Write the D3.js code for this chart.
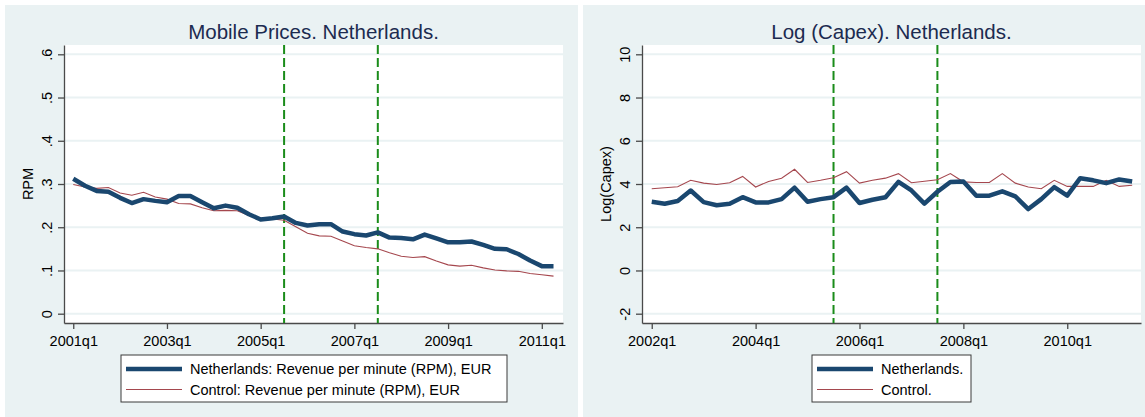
<!DOCTYPE html>
<html>
<head>
<meta charset="utf-8">
<script src="https://cdn.jsdelivr.net/npm/d3@7"></script>
<style>
  body { margin: 0; background: #fff; }
  svg { display: block; font-family: 'Liberation Sans', Arial, sans-serif; }
</style>
</head>
<body>
<svg id="chart" width="1145" height="417"></svg>
<script>
// Left panel: mobile prices, 2001q1 - 2011q2
const rpmQuarters = [
  '2001q1','2001q2','2001q3','2001q4','2002q1','2002q2','2002q3','2002q4',
  '2003q1','2003q2','2003q3','2003q4','2004q1','2004q2','2004q3','2004q4',
  '2005q1','2005q2','2005q3','2005q4','2006q1','2006q2','2006q3','2006q4',
  '2007q1','2007q2','2007q3','2007q4','2008q1','2008q2','2008q3','2008q4',
  '2009q1','2009q2','2009q3','2009q4','2010q1','2010q2','2010q3','2010q4',
  '2011q1','2011q2'
]
const rpmNetherlands = [
  0.312, 0.296, 0.284, 0.282, 0.268, 0.256, 0.265, 0.261, 0.258, 0.272,
  0.272, 0.258, 0.244, 0.250, 0.245, 0.230, 0.218, 0.221, 0.225, 0.210,
  0.204, 0.207, 0.207, 0.190, 0.184, 0.181, 0.188, 0.176, 0.175, 0.172,
  0.183, 0.174, 0.165, 0.165, 0.167, 0.159, 0.150, 0.149, 0.138, 0.123,
  0.110, 0.110
]
const rpmControl = [
  0.299, 0.293, 0.290, 0.292, 0.279, 0.274, 0.281, 0.270, 0.265, 0.255,
  0.254, 0.245, 0.238, 0.239, 0.238, 0.227, 0.221, 0.219, 0.216, 0.201,
  0.186, 0.180, 0.179, 0.168, 0.157, 0.153, 0.150, 0.141, 0.133, 0.130,
  0.132, 0.122, 0.113, 0.110, 0.112, 0.106, 0.101, 0.099, 0.098, 0.093,
  0.090, 0.087
]
const rpmXTicks = ['2001q1', '2003q1', '2005q1', '2007q1', '2009q1', '2011q1']
const rpmYTicks = [0, 0.1, 0.2, 0.3, 0.4, 0.5, 0.6]
const rpmYLabels = ['0', '.1', '.2', '.3', '.4', '.5', '.6']

// Right panel: log capex, 2002q1 - 2011q2
const capexQuarters = [
  '2002q1','2002q2','2002q3','2002q4','2003q1','2003q2','2003q3','2003q4',
  '2004q1','2004q2','2004q3','2004q4','2005q1','2005q2','2005q3','2005q4',
  '2006q1','2006q2','2006q3','2006q4','2007q1','2007q2','2007q3','2007q4',
  '2008q1','2008q2','2008q3','2008q4','2009q1','2009q2','2009q3','2009q4',
  '2010q1','2010q2','2010q3','2010q4','2011q1','2011q2'
]
const capexNetherlands = [
  3.18, 3.09, 3.21, 3.70, 3.16, 3.02, 3.09, 3.39, 3.15, 3.15,
  3.30, 3.83, 3.18, 3.30, 3.39, 3.83, 3.12, 3.27, 3.39, 4.10,
  3.70, 3.09, 3.64, 4.09, 4.12, 3.46, 3.46, 3.66, 3.43, 2.84,
  3.30, 3.86, 3.46, 4.27, 4.17, 4.04, 4.21, 4.12
]
const capexControl = [
  3.78, 3.83, 3.87, 4.17, 4.04, 3.98, 4.06, 4.35, 3.86, 4.12,
  4.27, 4.68, 4.07, 4.17, 4.29, 4.57, 4.04, 4.17, 4.27, 4.48,
  4.06, 4.13, 4.20, 4.48, 4.10, 4.07, 4.07, 4.48, 4.04, 3.86,
  3.78, 4.17, 3.89, 3.89, 3.89, 4.17, 3.89, 3.94
]
const capexXTicks = ['2002q1', '2004q1', '2006q1', '2008q1', '2010q1']
const capexYTicks = [-2, 0, 2, 4, 6, 8, 10]
const capexYLabels = ['-2', '0', '2', '4', '6', '8', '10']

const eventQuarters = ['2005q3', '2007q3']

const bg = '#eaf2f3'
const navy = '#1a476f'
const maroon = '#a5474e'

const svg = d3.select('#chart')

drawPanel({
  bx: 5, bw: 573,
  left: 64, right: 563,
  title: 'Mobile Prices. Netherlands.',
  yTitle: 'RPM',
  quarters: rpmQuarters,
  nl: rpmNetherlands,
  ctrl: rpmControl,
  xTicks: rpmXTicks,
  xDomain: [-0.79, 41.81],
  yTicks: rpmYTicks,
  yLabels: rpmYLabels,
  yDomain: [-0.0215, 0.6215],
  legend: { x: 121, w: 386, labels: ['Netherlands: Revenue per minute (RPM), EUR', 'Control: Revenue per minute (RPM), EUR'] }
})

drawPanel({
  bx: 583, bw: 562,
  left: 642, right: 1141,
  title: 'Log (Capex). Netherlands.',
  yTitle: 'Log(Capex)',
  quarters: capexQuarters,
  nl: capexNetherlands,
  ctrl: capexControl,
  xTicks: capexXTicks,
  xDomain: [-0.75, 37.68],
  yTicks: capexYTicks,
  yLabels: capexYLabels,
  yDomain: [-2.43, 10.43],
  legend: { x: 812, w: 159, labels: ['Netherlands.', 'Control.'] }
})

function drawPanel(p) {
  const top = 45
  const bottom = 323

  const g = svg.append('g')

  g.append('rect')
    .attr('x', p.bx).attr('y', 5)
    .attr('width', p.bw).attr('height', 412)
    .attr('fill', bg)

  g.append('rect')
    .attr('x', p.left).attr('y', top)
    .attr('width', p.right - p.left).attr('height', bottom - top)
    .attr('fill', '#fff')

  const x = d3.scaleLinear().domain(p.xDomain).range([p.left, p.right])
  const y = d3.scaleLinear().domain(p.yDomain).range([bottom, top])

  // Grid lines
  g.append('g').selectAll('line')
    .data(p.yTicks)
    .join('line')
    .attr('x1', p.left).attr('x2', p.right)
    .attr('y1', d => y(d)).attr('y2', d => y(d))
    .attr('stroke', bg)
    .attr('stroke-width', 2)

  // Y axis, labels turned on their side
  const yAxis = g.append('g')
    .attr('transform', `translate(${p.left},0)`)
    .call(d3.axisLeft(y)
      .tickValues(p.yTicks)
      .tickFormat((d, i) => p.yLabels[i])
      .tickSize(6)
      .tickSizeOuter(0))
  yAxis.selectAll('text')
    .attr('x', null).attr('dy', null)
    .attr('transform', 'translate(-12,0) rotate(-90)')
    .attr('text-anchor', 'middle')

  // X axis
  const xAxis = g.append('g')
    .attr('transform', `translate(0,${bottom})`)
    .call(d3.axisBottom(x)
      .tickValues(p.xTicks.map(q => p.quarters.indexOf(q)))
      .tickFormat(i => p.quarters[i])
      .tickSize(6)
      .tickSizeOuter(0)
      .tickPadding(7))

  ;[yAxis, xAxis].forEach(a => {
    a.selectAll('text').attr('font-size', 14.5).attr('fill', '#000').attr('font-family', null)
    a.selectAll('path, line').attr('stroke', '#4a4a4a').attr('stroke-width', 1.3)
  })

  // Event lines
  g.append('g').selectAll('line')
    .data(p.quarters.filter(q => eventQuarters.includes(q)))
    .join('line')
    .attr('x1', q => x(p.quarters.indexOf(q)))
    .attr('x2', q => x(p.quarters.indexOf(q)))
    .attr('y1', top).attr('y2', bottom)
    .attr('stroke', '#1a8c1a')
    .attr('stroke-width', 2)
    .attr('stroke-dasharray', '9,4')

  const line = d3.line().x((d, i) => x(i)).y(d => y(d))

  g.append('path')
    .attr('d', line(p.ctrl))
    .attr('fill', 'none')
    .attr('stroke', maroon)
    .attr('stroke-width', 1.1)

  g.append('path')
    .attr('d', line(p.nl))
    .attr('fill', 'none')
    .attr('stroke', navy)
    .attr('stroke-width', 4.5)
    .attr('stroke-linejoin', 'round')

  // Titles
  g.append('text')
    .attr('x', (p.left + p.right) / 2).attr('y', 39)
    .attr('text-anchor', 'middle')
    .attr('font-size', 20.5)
    .attr('fill', '#1c2b50')
    .text(p.title)

  g.append('text')
    .attr('transform', `translate(${p.left - 31},${(top + bottom) / 2}) rotate(-90)`)
    .attr('text-anchor', 'middle')
    .attr('font-size', 14.5)
    .text(p.yTitle)

  // Legend
  const lg = g.append('g')
  lg.append('rect')
    .attr('x', p.legend.x).attr('y', 355)
    .attr('width', p.legend.w).attr('height', 47)
    .attr('fill', '#fff')
    .attr('stroke', '#3a3a3a')
    .attr('stroke-width', 1)

  const keys = [
    { colour: navy, width: 4.5 },
    { colour: maroon, width: 1.1 }
  ]
  keys.forEach((k, i) => {
    const ly = 369 + i * 20.5
    lg.append('line')
      .attr('x1', p.legend.x + 5).attr('x2', p.legend.x + 61)
      .attr('y1', ly).attr('y2', ly)
      .attr('stroke', k.colour)
      .attr('stroke-width', k.width)
    lg.append('text')
      .attr('x', p.legend.x + 69).attr('y', ly + 5)
      .attr('font-size', 14.5)
      .text(p.legend.labels[i])
  })
}
</script>
</body>
</html>
